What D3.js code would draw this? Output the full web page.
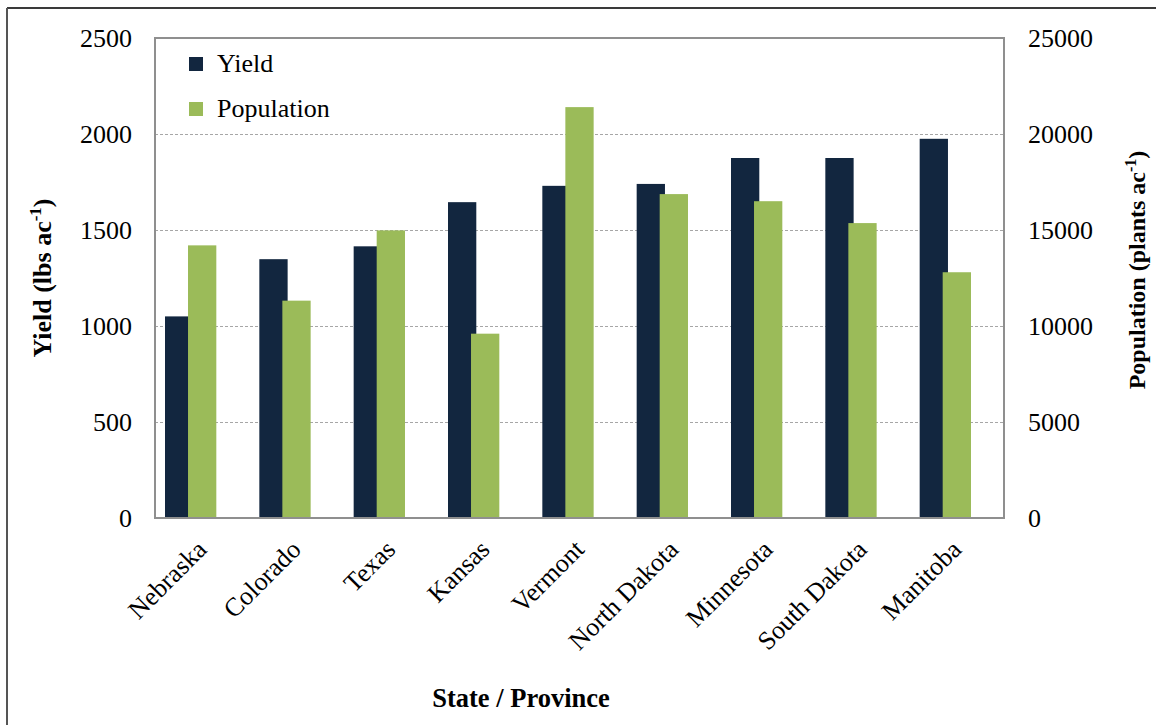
<!DOCTYPE html>
<html>
<head>
<meta charset="utf-8">
<script src="https://cdn.jsdelivr.net/npm/d3@7"></script>
<style>
  body { margin: 0; background: #fff; }
  svg { display: block; }
  svg text { font-family: "Liberation Serif", "Times New Roman", serif; fill: #000; }
</style>
</head>
<body>
<svg id="chart" width="1156" height="725"></svg>
<script>
const categories = ["Nebraska", "Colorado", "Texas", "Kansas", "Vermont", "North Dakota", "Minnesota", "South Dakota", "Manitoba"];
const yieldValues = [1050, 1348, 1415, 1645, 1730, 1740, 1875, 1875, 1975];
const populationValues = [14200, 11320, 14980, 9600, 21400, 16870, 16500, 15360, 12800];
const yieldTicks = [0, 500, 1000, 1500, 2000, 2500];
const populationTicks = [0, 5000, 10000, 15000, 20000, 25000];
const seriesNames = ["Yield", "Population"];
const seriesColors = ["#12263f", "#9bbb59"];

const svg = d3.select("#chart");
const plot = { left: 155, right: 1004, top: 38, bottom: 518 };

// outer frame (top + left lines visible)
svg.append("line").attr("x1", 7).attr("x2", 1160).attr("y1", 8).attr("y2", 8)
  .attr("stroke", "#3a3a3a").attr("stroke-width", 2);
svg.append("line").attr("x1", 7).attr("x2", 7).attr("y1", 8).attr("y2", 730)
  .attr("stroke", "#555").attr("stroke-width", 2);

const x = d3.scaleBand().domain(categories).range([plot.left, plot.right]).paddingInner(0).paddingOuter(0);
const yL = d3.scaleLinear().domain([0, 2500]).range([plot.bottom, plot.top]);
const yR = d3.scaleLinear().domain([0, 25000]).range([plot.bottom, plot.top]);

// gridlines
svg.append("g").selectAll("line").data(yieldTicks.filter(t => t > 0 && t < 2500)).join("line")
  .attr("x1", plot.left).attr("x2", plot.right)
  .attr("y1", d => Math.round(yL(d)) + 0.5).attr("y2", d => Math.round(yL(d)) + 0.5)
  .attr("stroke", "#a6a6a6").attr("stroke-width", 1).attr("stroke-dasharray", "3,2");

const bw = x.bandwidth();
const barW = bw * 0.30;
const off1 = bw * 0.106;
const off2 = bw * 0.35;

// yield bars
svg.append("g").selectAll("rect").data(yieldValues).join("rect")
  .attr("x", (d, i) => x(categories[i]) + off1)
  .attr("width", barW)
  .attr("y", d => yL(d))
  .attr("height", d => plot.bottom - yL(d))
  .attr("fill", seriesColors[0]);

// population bars
svg.append("g").selectAll("rect").data(populationValues).join("rect")
  .attr("x", (d, i) => x(categories[i]) + off2)
  .attr("width", barW)
  .attr("y", d => yR(d))
  .attr("height", d => plot.bottom - yR(d))
  .attr("fill", seriesColors[1]);

// plot border
svg.append("rect").attr("x", plot.left).attr("y", plot.top)
  .attr("width", plot.right - plot.left).attr("height", plot.bottom - plot.top)
  .attr("fill", "none").attr("stroke", "#8f8f8f").attr("stroke-width", 2);

// left axis labels
const fmt = d3.format("d");
const leftAxis = d3.axisLeft(yL).tickValues(yieldTicks).tickFormat(fmt).tickSize(0).tickPadding(23);
const gl = svg.append("g").attr("transform", `translate(${plot.left},0)`).call(leftAxis);
gl.select(".domain").remove();
gl.attr("font-family", null).attr("font-size", null);
gl.selectAll("text").style("font-size", "26px");

const rightAxis = d3.axisRight(yR).tickValues(populationTicks).tickFormat(fmt).tickSize(0).tickPadding(24);
const gr = svg.append("g").attr("transform", `translate(${plot.right},0)`).call(rightAxis);
gr.select(".domain").remove();
gr.attr("font-family", null).attr("font-size", null);
gr.selectAll("text").style("font-size", "26px");

// x labels
svg.append("g").selectAll("text").data(categories).join("text")
  .attr("transform", d => `translate(${x(d) + bw / 2 + 6},${551}) rotate(-45)`)
  .attr("text-anchor", "end")
  .style("font-size", "26px")
  .text(d => d);

// axis titles
const yt = svg.append("text")
  .attr("transform", `translate(51,278) rotate(-90)`)
  .attr("text-anchor", "middle").style("font-size", "26px").attr("font-weight", "bold");
yt.append("tspan").text("Yield (lbs ac");
yt.append("tspan").style("font-size", "17px").attr("dy", -10).text("-1");
yt.append("tspan").attr("dy", 10).text(")");

const rt = svg.append("text")
  .attr("transform", `translate(1145,270) rotate(-90)`)
  .attr("text-anchor", "middle").style("font-size", "24px").attr("font-weight", "bold");
rt.append("tspan").text("Population (plants ac");
rt.append("tspan").style("font-size", "16px").attr("dy", -9).text("-1");
rt.append("tspan").attr("dy", 9).text(")");

svg.append("text").attr("x", 521).attr("y", 707).attr("text-anchor", "middle")
  .style("font-size", "26.5px").attr("font-weight", "bold").text("State / Province");

// legend
const lg = svg.append("g").selectAll("g").data(seriesNames).join("g")
  .attr("transform", (d, i) => `translate(189,${57 + i * 45})`);
lg.append("rect").attr("width", 14).attr("height", 14).attr("fill", (d, i) => seriesColors[i]);
lg.append("text").attr("x", 28).attr("y", 15).style("font-size", "26px").text(d => d);
</script>
</body>
</html>
